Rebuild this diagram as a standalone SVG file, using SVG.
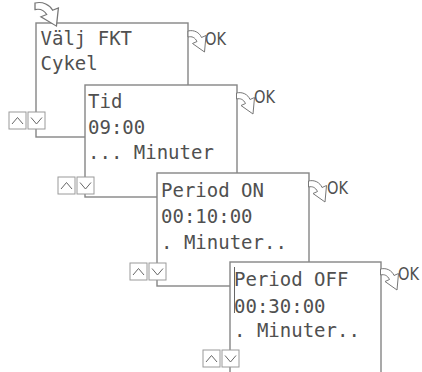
<svg xmlns="http://www.w3.org/2000/svg" width="422" height="372" viewBox="0 0 422 372">
<style>
.box{fill:#fff;stroke:#858585;stroke-width:1.4}
.t{font-family:"DejaVu Sans Mono",monospace;font-size:19px;fill:#505050}
.ok{font-family:"DejaVu Sans Condensed","DejaVu Sans",sans-serif;font-size:18px;fill:#505050}
.btn{fill:#fff;stroke:#9a9a9a;stroke-width:1}
.chev{fill:none;stroke:#666;stroke-width:1}
.arr{fill:#fff;stroke:#777;stroke-width:1;stroke-linejoin:miter}
</style>
<defs>
<path id="ca" d="M0,0 C6,-1.5 11.5,1.5 13.5,6.5 L18,4.5 L16.5,21 L4.5,12.5 L9,10.5 C7,6.5 4,5 0,6 Z"/>
<g id="up"><rect class="btn" x="0" y="0" width="17" height="17"/><polyline class="chev" points="3,12 8.5,5.5 14,12"/></g>
<g id="dn"><rect class="btn" x="0" y="0" width="17" height="17"/><polyline class="chev" points="3,5.5 8.5,12 14,5.5"/></g>
</defs>
<g id="node1">
<rect class="box" x="36" y="23" width="152" height="114"/>
<text class="t" x="40.5" y="45">Välj FKT</text>
<text class="t" x="40.5" y="70">Cykel</text>
<use href="#up" x="9" y="112"/>
<use href="#dn" x="28" y="112"/>
<text class="ok" x="205" y="45" textLength="21" lengthAdjust="spacingAndGlyphs">OK</text>
</g>
<g id="node2">
<rect class="box" x="85" y="85" width="152" height="112"/>
<text class="t" x="88" y="108">Tid</text>
<text class="t" x="88" y="134">09:00</text>
<text class="t" x="88" y="159">... Minuter</text>
<use href="#up" x="58" y="177"/>
<use href="#dn" x="77" y="177"/>
<text class="ok" x="254" y="103" textLength="21" lengthAdjust="spacingAndGlyphs">OK</text>
</g>
<g id="node3">
<rect class="box" x="157" y="173" width="152" height="113"/>
<text class="t" x="161" y="197">Period ON</text>
<text class="t" x="161" y="223">00:10:00</text>
<text class="t" x="161" y="248.5">. Minuter..</text>
<use href="#up" x="130" y="263"/>
<use href="#dn" x="149" y="263"/>
<text class="ok" x="327" y="194" textLength="21" lengthAdjust="spacingAndGlyphs">OK</text>
</g>
<g id="node4">
<rect class="box" x="230" y="262" width="151" height="120"/>
<line x1="234.5" y1="267" x2="234.5" y2="313" stroke="#666" stroke-width="1"/>
<text class="t" x="234" y="286">Period OFF</text>
<text class="t" x="234" y="312.5">00:30:00</text>
<text class="t" x="234" y="337">. Minuter..</text>
<use href="#up" x="203" y="350"/>
<use href="#dn" x="222" y="350"/>
<text class="ok" x="398" y="280" textLength="21" lengthAdjust="spacingAndGlyphs">OK</text>
</g>
<g id="connectors">
<use href="#ca" class="arr" transform="translate(35,3) scale(1.3,1.1)"/>
<use href="#ca" class="arr" transform="translate(188,31)"/>
<use href="#ca" class="arr" transform="translate(236.5,93)"/>
<use href="#ca" class="arr" transform="translate(308.5,181)"/>
<use href="#ca" class="arr" transform="translate(380.5,269)"/>
</g>
</svg>
